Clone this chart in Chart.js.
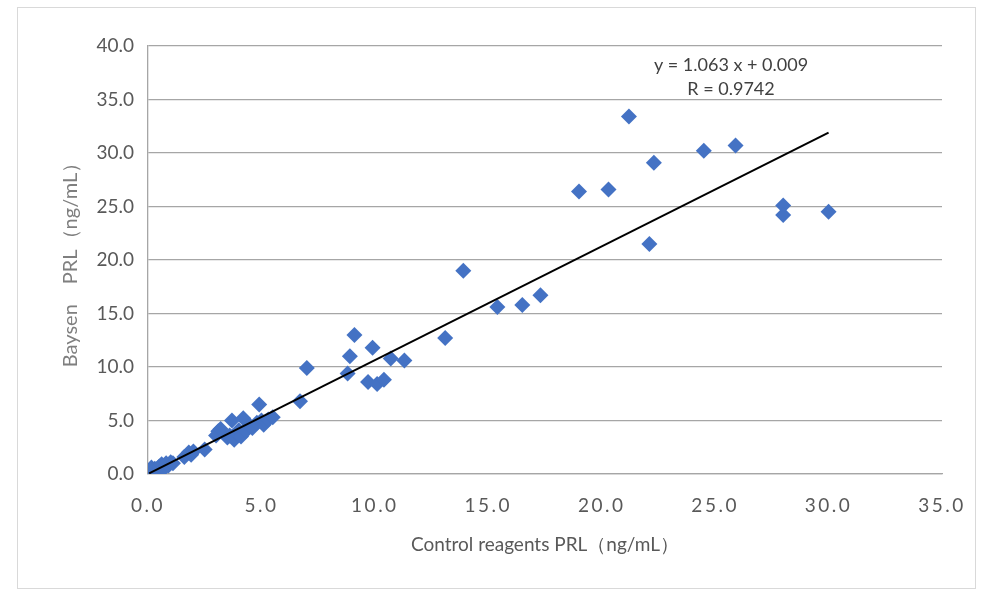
<!DOCTYPE html>
<html><head><meta charset="utf-8">
<script src="https://cdn.jsdelivr.net/npm/chart.js@4"></script>
<style>
html,body{margin:0;padding:0;background:#fff;}
#wrap{position:absolute;left:0;top:0;width:990px;height:607px;}
</style></head>
<body><div id="wrap"><canvas id="c" width="990" height="607"></canvas></div>
<script>
const controlX = [0.05,0.1,0.15,0.2,0.3,0.4,0.5,0.6,0.7,0.8,0.9,1.0,1.1,
 1.6,1.8,1.9,2.0,2.5,
 3.0,3.1,3.2,3.5,3.6,3.7,3.8,3.9,4.0,4.1,4.2,4.3,4.5,4.6,4.8,4.9,5.0,5.1,5.2,5.3,5.5,
 6.7,7.0,
 8.8,8.9,9.1,9.7,9.9,10.1,10.4,10.7,11.3,
 13.1,13.9,15.4,16.5,17.3,
 19.0,20.3,21.2,22.1,22.3,24.5,25.9,28.0,28.0,30.0];
const baysenY = [0.1,0.3,0.6,0.2,0.5,0.2,0.7,0.9,0.5,1.0,0.8,1.1,1.0,
 1.6,2.0,1.8,2.1,2.3,
 3.6,4.0,4.2,3.4,3.6,5.0,3.2,3.8,4.1,3.5,5.2,4.0,4.5,4.3,4.8,6.5,5.0,4.6,4.9,5.1,5.3,
 6.8,9.9,
 9.4,11.0,13.0,8.6,11.8,8.4,8.8,10.8,10.6,
 12.7,19.0,15.6,15.8,16.7,
 26.4,26.6,33.4,21.5,29.1,30.2,30.7,25.1,24.2,24.5];
const slope = 1.063, intercept = 0.009;
const equationLines = ["y = 1.063 x + 0.009", "R = 0.9742"];
const xTitle = "Control reagents PRL（ng/mL）";
const yTitle = "Baysen　PRL（ng/mL）";

const pts = controlX.map((x,i)=>({x:x,y:baysenY[i]}));
const xmin = Math.min(...controlX), xmax = Math.max(...controlX);
const trend = [{x:xmin,y:slope*xmin+intercept},{x:xmax,y:slope*xmax+intercept}];
const FONT = "Lato, 'Liberation Sans', sans-serif";

const deco = {
  id:'deco',
  afterUpdate(chart){
    const xs = chart.scales.x;
    if (xs && !xs._spaced){
      const orig = xs.drawLabels.bind(xs);
      xs.drawLabels = function(area){
        const ctx = this.ctx;
        ctx.save();
        ctx.letterSpacing = '2.5px';
        orig(area);
        ctx.restore();
      };
      xs._spaced = true;
    }
  },
  beforeDraw(chart){
    const ctx = chart.ctx;
    ctx.save();
    ctx.fillStyle='#fff';
    ctx.fillRect(0,0,chart.width,chart.height);
    ctx.strokeStyle='#d9d9d9';
    ctx.lineWidth=1;
    ctx.strokeRect(17.5,7.5,958,581);
    ctx.restore();
  },
  afterDatasetsDraw(chart){
    const ctx = chart.ctx;
    const xs = chart.scales.x, ys = chart.scales.y;
    ctx.save();
    ctx.fillStyle='#404040';
    ctx.font = "18px "+FONT;
    ctx.textAlign='center';
    ctx.textBaseline='middle';
    const cx = xs.getPixelForValue(25.7);
    ctx.fillText(equationLines[0], cx, ys.getPixelForValue(38.2));
    ctx.fillText(equationLines[1], cx, ys.getPixelForValue(36.0));
    ctx.restore();
  }
};

new Chart(document.getElementById('c'), {
  type:'scatter',
  data:{datasets:[
    {type:'line', data:trend, borderColor:'#000', borderWidth:2, pointRadius:0, showLine:true, fill:false, order:0},
    {data:pts, pointStyle:'rectRot', pointRadius:8, pointHoverRadius:8, backgroundColor:'#4472C4', borderColor:'#4472C4', borderWidth:0, order:1}
  ]},
  options:{
    responsive:false, animation:false,
    layout:{padding:{left:59, right:48, top:46, bottom:47}},
    plugins:{legend:{display:false}, tooltip:{enabled:false}},
    scales:{
      x:{type:'linear', min:0, max:35,
        afterFit(s){ s.height = 86; },
        ticks:{stepSize:5, color:'#595959', font:{size:19, family:FONT}, padding:20, callback:v=>v.toFixed(1), maxRotation:0},
        grid:{display:false, drawTicks:false},
        border:{display:true, color:'#a6a6a6', width:1.3},
        title:{display:true, text:xTitle, color:'#595959', font:{size:19, family:FONT}, padding:{top:4,bottom:4}}
      },
      y:{type:'linear', min:0, max:40,
        afterFit(s){ s.width = 89; },
        ticks:{stepSize:5, color:'#595959', font:{size:19, family:FONT}, padding:14, callback:v=>v.toFixed(1)},
        grid:{color:'#a6a6a6', lineWidth:1.3, drawTicks:false},
        border:{display:true, color:'#a6a6a6', width:1.3},
        title:{display:true, text:yTitle, color:'#7f7f7f', font:{size:20, family:FONT}, padding:{top:0,bottom:0}}
      }
    }
  },
  plugins:[deco]
});
</script></body></html>
